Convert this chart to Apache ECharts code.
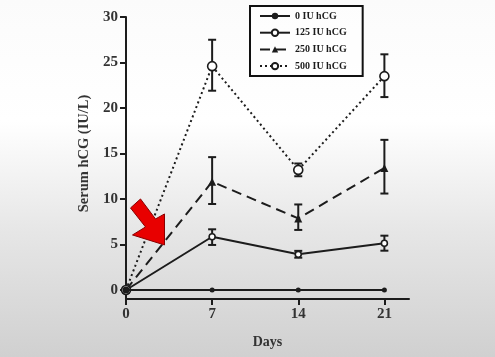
<!DOCTYPE html>
<html><head><meta charset="utf-8">
<script src="https://cdn.jsdelivr.net/npm/echarts@6/dist/echarts.min.js"></script>
<style>html,body{margin:0;padding:0;}#c{width:495px;height:357px;}</style>
</head><body><div id="c"></div>
<script>
const days = [0, 7, 14, 21];
const seriesNames = ['0 IU hCG', '125 IU hCG', '250 IU hCG', '500 IU hCG'];
const mean0 = [0, 0, 0, 0];
const mean125 = [0, 5.85, 3.92, 5.13];
const low125 = [0, 4.95, 3.55, 4.32];
const high125 = [0, 6.67, 4.3, 5.97];
const mean250 = [0, 11.9, 7.87, 13.4];
const low250 = [0, 9.45, 6.6, 10.6];
const high250 = [0, 14.6, 9.4, 16.5];
const mean500 = [0, 24.6, 13.2, 23.5];
const low500 = [0, 21.9, 12.5, 21.2];
const high500 = [0, 27.5, 13.9, 25.9];

const ink = '#1c1c1c';
const font = '"Liberation Serif", "DejaVu Serif", serif';

function pairs(vals) { return days.map((d, i) => [d, vals[i]]); }
function errData(lo, hi) {
  const out = [];
  days.forEach((d, i) => { if (d !== 0) out.push([d, lo[i], hi[i]]); });
  return out;
}
function errSeries(lo, hi) {
  return {
    type: 'custom', silent: true, z: 3,
    renderItem: function (params, api) {
      const x = api.value(0);
      const a = api.coord([x, api.value(1)]);
      const b = api.coord([x, api.value(2)]);
      const w = 4;
      const st = { stroke: ink, lineWidth: 2 };
      return { type: 'group', children: [
        { type: 'line', shape: { x1: a[0], y1: a[1], x2: b[0], y2: b[1] }, style: st },
        { type: 'line', shape: { x1: a[0] - w, y1: a[1], x2: a[0] + w, y2: a[1] }, style: st },
        { type: 'line', shape: { x1: b[0] - w, y1: b[1], x2: b[0] + w, y2: b[1] }, style: st }
      ]};
    },
    encode: { x: 0, y: [1, 2] },
    data: errData(lo, hi)
  };
}
function lineSeries(name, vals, lineType, symbol, size, hollow, z) {
  return {
    name: name, type: 'line', data: pairs(vals), z: z,
    symbol: symbol, symbolSize: size, showSymbol: true,
    lineStyle: { color: ink, width: 2, type: lineType },
    itemStyle: { color: hollow ? '#ffffff' : ink, borderColor: ink, borderWidth: hollow ? 1.6 : 0 },
    emphasis: { disabled: true }, animation: false
  };
}

const tickStyle = { show: true, inside: false, length: 6, lineStyle: { color: ink, width: 2 } };

const chart = echarts.init(document.getElementById('c'));
chart.setOption({
  animation: false,
  backgroundColor: { type: 'linear', x: 0, y: 0, x2: 0, y2: 1, colorStops: [
    { offset: 0, color: '#fbfbfb' }, { offset: 0.34, color: '#ffffff' },
    { offset: 0.65, color: '#e6e6e6' }, { offset: 1, color: '#d0d0d0' } ] },
  grid: { left: 126, right: 86, top: 17, bottom: 67 },
  legend: {
    data: seriesNames, orient: 'vertical', left: 250, top: 6,
    padding: [5, 16, 5, 9], itemWidth: 30, itemHeight: 8, itemGap: 6.7,
    borderColor: '#111', borderWidth: 2, backgroundColor: 'rgba(255,255,255,0.6)',
    textStyle: { fontFamily: font, fontWeight: 'bold', fontSize: 10, color: ink },
    selectedMode: false
  },
  xAxis: {
    type: 'value', min: 0, max: 23, interval: 7, offset: 9,
    name: 'Days', nameLocation: 'middle', nameGap: 36,
    nameTextStyle: { fontFamily: font, fontWeight: 'bold', fontSize: 14, color: '#333' },
    axisLine: { show: true, onZero: false, lineStyle: { color: ink, width: 2 } },
    axisTick: tickStyle,
    axisLabel: { margin: 8, fontFamily: font, fontWeight: 'bold', fontSize: 15, color: '#333', showMaxLabel: false },
    splitLine: { show: false }
  },
  yAxis: {
    type: 'value', min: 0, max: 30, interval: 5,
    name: 'Serum hCG (IU/L)', nameLocation: 'middle', nameGap: 28,
    nameTextStyle: { fontFamily: font, fontWeight: 'bold', fontSize: 14.5, color: '#333' },
    axisLine: { show: true, lineStyle: { color: ink, width: 2 } },
    axisTick: tickStyle,
    axisLabel: { margin: 8, fontFamily: font, fontWeight: 'bold', fontSize: 15, color: '#333' },
    splitLine: { show: false }
  },
  series: [
    lineSeries(seriesNames[0], mean0, 'solid', 'circle', 5, false, 6),
    lineSeries(seriesNames[1], mean125, 'solid', 'circle', 6, true, 4),
    lineSeries(seriesNames[2], mean250, [10, 6], 'triangle', 8, false, 4),
    lineSeries(seriesNames[3], mean500, [2, 3], 'circle', 9, true, 4),
    errSeries(low125, high125),
    errSeries(low250, high250),
    errSeries(low500, high500)
  ]
});

const y0 = chart.convertToPixel({ gridIndex: 0 }, [0, 0]);
const tip = chart.convertToPixel({ gridIndex: 0 }, [3.13, 4.95]);
const rel = [[-34, -37], [-24, -46], [-9, -26], [0, -31], [0, 0], [-32, -10], [-19, -18]];
chart.setOption({ graphic: [
  { type: 'line', z: 1, shape: { x1: y0[0], y1: y0[1], x2: y0[0], y2: y0[1] + 12 },
    style: { stroke: ink, lineWidth: 2 } },
  { type: 'circle', z: 7, shape: { cx: y0[0], cy: y0[1], r: 3.5 }, style: { fill: ink } },
  { type: 'polygon', z: 10,
    shape: { points: rel.map(p => [tip[0] + p[0], tip[1] + p[1]]) },
    style: { fill: '#e80000', stroke: '#8a0000', lineWidth: 1 } }
]});
</script>
</body></html>
